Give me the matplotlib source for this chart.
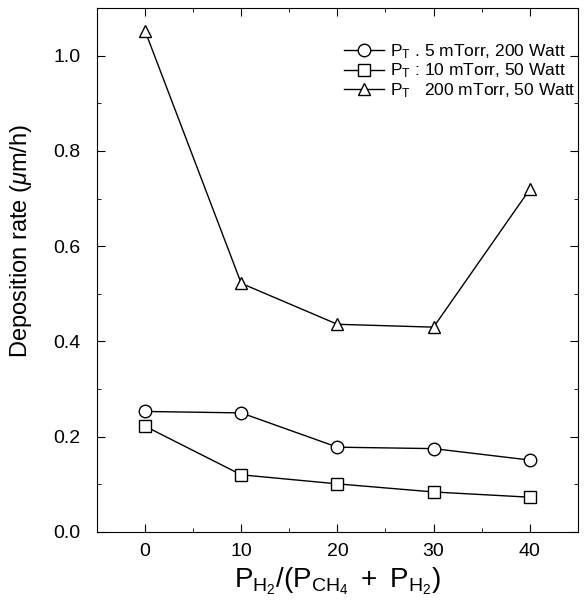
import matplotlib
matplotlib.use("Agg")
import matplotlib.pyplot as plt
from matplotlib.ticker import MultipleLocator

plt.rcParams['font.family'] = ['Liberation Sans', 'DejaVu Sans']
plt.rcParams['mathtext.fontset'] = 'custom'
plt.rcParams['mathtext.rm'] = 'Liberation Sans'
plt.rcParams['mathtext.it'] = 'Liberation Sans:italic'

# H2 ratio (%)
ratio = [0, 10, 20, 30, 40]

# deposition rate (um/h) for each total pressure / power
rate_5mtorr = [0.253, 0.250, 0.178, 0.175, 0.151]
rate_10mtorr = [0.222, 0.120, 0.101, 0.084, 0.073]
rate_200mtorr = [1.052, 0.522, 0.436, 0.430, 0.719]

labels = [r'$\mathrm{P_T}$ . 5 mTorr, 200 Watt',
          r'$\mathrm{P_T}$ : 10 mTorr, 50 Watt',
          r'$\mathrm{P_T}$   200 mTorr, 50 Watt']

fig = plt.figure(figsize=(5.86, 6.15), dpi=100)
ax = fig.add_axes([0.1655, 0.135, 0.8205, 0.852])

mk = dict(color='black', lw=1.0, markersize=9, markerfacecolor='white',
          markeredgecolor='black', markeredgewidth=1.0)
ax.plot(ratio, rate_5mtorr, marker='o', label=labels[0], **mk)
ax.plot(ratio, rate_10mtorr, marker='s', label=labels[1], **mk)
ax.plot(ratio, rate_200mtorr, marker='^', label=labels[2], **mk)

ax.set_xlim(-5, 45)
ax.set_ylim(0, 1.1)
ax.xaxis.set_major_locator(MultipleLocator(10))
ax.xaxis.set_minor_locator(MultipleLocator(5))
ax.yaxis.set_major_locator(MultipleLocator(0.2))
ax.yaxis.set_minor_locator(MultipleLocator(0.1))
ax.yaxis.set_major_formatter(plt.FormatStrFormatter('%.1f'))
ax.tick_params(which='both', direction='in', top=True, right=True, labelsize=14)
ax.tick_params(axis='x', pad=8)
ax.tick_params(axis='y', pad=12)
ax.tick_params(which='major', length=6)
ax.tick_params(which='minor', length=3)

ax.set_xlabel(r'$\mathrm{P_{H_2}/(P_{CH_4}\ +\ P_{H_2})}$', fontsize=20, labelpad=4)
ax.set_ylabel(r'Deposition rate ($\mu$m/h)', fontsize=17, labelpad=6)
ax.yaxis.set_label_coords(-0.13, 0.555)

ax.legend(loc='upper right', frameon=False, fontsize=12.5, handlelength=2.3,
          handletextpad=0.35, labelspacing=0.05, borderaxespad=0.3,
          bbox_to_anchor=(1.02, 0.958))

fig.savefig('out.png', dpi=100)
